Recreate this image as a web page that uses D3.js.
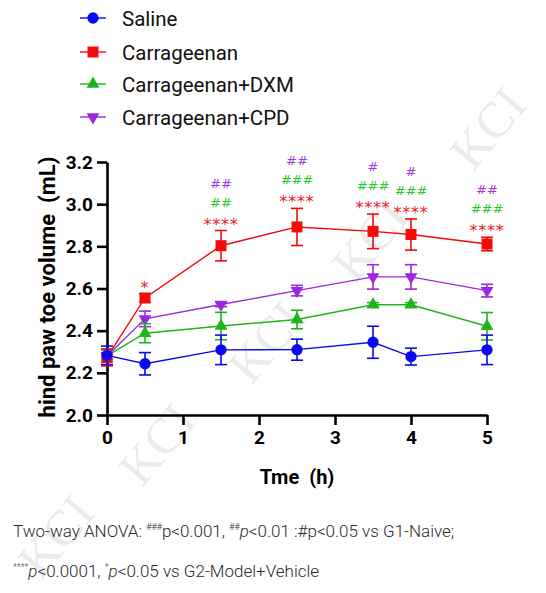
<!DOCTYPE html>
<html>
<head>
<meta charset="utf-8">
<script src="https://cdn.jsdelivr.net/npm/d3@7"></script>
<style>
  body { margin: 0; background: #fff; }
  svg { display: block; }
</style>
</head>
<body>
<svg id="chart"></svg>
<script>
// values
var times = [0, 0.5, 1.5, 2.5, 3.5, 4, 5];
var saline = [2.283, 2.243, 2.309, 2.310, 2.345, 2.277, 2.309];
var salineErr = [0.044, 0.053, 0.070, 0.050, 0.076, 0.040, 0.070];
var carrageenan = [2.273, 2.555, 2.803, 2.892, 2.871, 2.856, 2.811];
var carrageenanErr = [0.040, 0.020, 0.072, 0.088, 0.082, 0.074, 0.032];
var dxm = [2.280, 2.388, 2.422, 2.453, 2.523, 2.523, 2.421];
var dxmErr = [0.030, 0.045, 0.065, 0.044, 0.010, 0.010, 0.065];
var cpd = [2.280, 2.456, 2.524, 2.590, 2.655, 2.655, 2.590];
var cpdErr = [0.030, 0.037, 0.010, 0.025, 0.058, 0.058, 0.030];

var seriesNames = ["Saline", "Carrageenan", "Carrageenan+DXM", "Carrageenan+CPD"];
var seriesColors = ["#0a0af0", "#f50a0a", "#1eb41e", "#9a28e0"];

var yTicks = [2.0, 2.2, 2.4, 2.6, 2.8, 3.0, 3.2];
var xTicks = [0, 1, 2, 3, 4, 5];

// significance marks above the Carrageenan points
var annoTimes = [0.5, 1.5, 2.5, 3.5, 4, 5];
var annoCarr = ["*", "****", "****", "****", "****", "****"];
var annoDxm = ["", "##", "###", "###", "###", "###"];
var annoCpd = ["", "##", "##", "#", "#", "##"];
var annoColors = ["#e8202a", "#2ec42e", "#a23ad8"];

var W = 546, H = 593;
var svg = d3.select("#chart").attr("width", W).attr("height", H);

// faint watermark
var wm = [[488, 128], [370, 240], [266, 342], [157, 444], [56, 536]];
svg.append("g").selectAll("text")
    .data(wm)
    .enter().append("text")
    .attr("transform", d => "translate(" + d[0] + "," + d[1] + ") rotate(-50)")
    .attr("text-anchor", "middle")
    .attr("dominant-baseline", "central")
    .attr("font-family", "'Liberation Serif', serif")
    .attr("font-size", 50)
    .attr("fill", "#ebebeb")
    .text("KCI");

var x = d3.scaleLinear().domain([0, 5]).range([107, 487]);
var y = d3.scaleLinear().domain([2.0, 3.2]).range([415, 162]);

// axes
var yAxis = svg.append("g")
    .attr("transform", "translate(107,0)")
    .call(d3.axisLeft(y).tickValues(yTicks).tickFormat(d3.format(".1f")).tickSize(10).tickSizeOuter(0).tickPadding(4));
var xAxis = svg.append("g")
    .attr("transform", "translate(0,415)")
    .call(d3.axisBottom(x).tickValues(xTicks).tickFormat(d3.format("d")).tickSize(10).tickSizeOuter(0).tickPadding(6));

[xAxis, yAxis].forEach(function(g) {
    g.select(".domain").attr("stroke", "#000").attr("stroke-width", 2.6);
    g.selectAll(".tick line").attr("stroke", "#000").attr("stroke-width", 2.6);
    g.selectAll(".tick text")
        .attr("fill", "#000")
        .attr("font-family", "Roboto, sans-serif")
        .attr("font-weight", "bold")
        .attr("font-size", 19);
});

svg.append("text")
    .attr("transform", "translate(55,287) rotate(-90)")
    .attr("text-anchor", "middle")
    .attr("font-family", "Roboto, sans-serif")
    .attr("font-weight", "bold")
    .attr("font-size", 22)
    .text("hind paw toe volume\u00a0\u00a0(mL)");

svg.append("text")
    .attr("x", 297)
    .attr("y", 484)
    .attr("text-anchor", "middle")
    .attr("font-family", "Roboto, sans-serif")
    .attr("font-weight", "bold")
    .attr("font-size", 20)
    .text("Tme\u00a0\u00a0(h)");

// series
var symbols = [
    d3.symbol().type(d3.symbolCircle).size(100),
    d3.symbol().type(d3.symbolSquare).size(121),
    d3.symbol().type(d3.symbolTriangle).size(72),
    d3.symbol().type(d3.symbolTriangle).size(72)
];
var rotations = [0, 0, 0, 180];

var allSeries = [
    { vals: saline, errs: salineErr },
    { vals: carrageenan, errs: carrageenanErr },
    { vals: dxm, errs: dxmErr },
    { vals: cpd, errs: cpdErr }
];
var drawOrder = [3, 2, 1, 0];

var line = d3.line().x(d => x(d.t)).y(d => y(d.v));

drawOrder.forEach(function(i) {
    var s = allSeries[i];
    var pts = times.map((t, j) => ({ t: t, v: s.vals[j], e: s.errs[j] }));
    var g = svg.append("g").attr("class", "series-" + i);
    var col = seriesColors[i];

    g.append("path")
        .datum(pts)
        .attr("fill", "none")
        .attr("stroke", col)
        .attr("stroke-width", 1.4)
        .attr("d", line);

    var eb = g.selectAll(".err").data(pts).enter().append("g").attr("class", "err");
    eb.append("line")
        .attr("x1", d => x(d.t)).attr("x2", d => x(d.t))
        .attr("y1", d => y(d.v - d.e)).attr("y2", d => y(d.v + d.e))
        .attr("stroke", col).attr("stroke-width", 1.6);
    eb.append("line")
        .attr("x1", d => x(d.t) - 6).attr("x2", d => x(d.t) + 6)
        .attr("y1", d => y(d.v + d.e)).attr("y2", d => y(d.v + d.e))
        .attr("stroke", col).attr("stroke-width", 1.6);
    eb.append("line")
        .attr("x1", d => x(d.t) - 6).attr("x2", d => x(d.t) + 6)
        .attr("y1", d => y(d.v - d.e)).attr("y2", d => y(d.v - d.e))
        .attr("stroke", col).attr("stroke-width", 1.6);

    g.selectAll(".mk").data(pts).enter().append("path")
        .attr("class", "mk")
        .attr("d", symbols[i])
        .attr("fill", col)
        .attr("transform", d => "translate(" + x(d.t) + "," + y(d.v) + ") rotate(" + rotations[i] + ")");
});

// significance labels
var annoG = svg.append("g")
    .attr("text-anchor", "middle")
    .attr("font-family", "'DejaVu Sans', sans-serif");
annoTimes.forEach(function(t, k) {
    var j = times.indexOf(t);
    var redC = y(carrageenan[j] + carrageenanErr[j]) - 11;
    var greenC = redC - 18;
    var purpleC = greenC - 19;
    annoG.append("text")
        .attr("x", x(t)).attr("y", redC + 10)
        .attr("font-size", 16).attr("letter-spacing", 0.8)
        .attr("fill", annoColors[0])
        .text(annoCarr[k]);
    annoG.append("text")
        .attr("x", x(t)).attr("y", greenC + 5)
        .attr("font-size", 13)
        .attr("fill", annoColors[1])
        .text(annoDxm[k]);
    annoG.append("text")
        .attr("x", x(t)).attr("y", purpleC + 5)
        .attr("font-size", 13)
        .attr("fill", annoColors[2])
        .text(annoCpd[k]);
});

// legend
var legendY = [18, 52, 84, 117];
var lg = svg.append("g");
seriesNames.forEach(function(name, i) {
    var row = lg.append("g").attr("transform", "translate(0," + legendY[i] + ")");
    row.append("line")
        .attr("x1", 80).attr("x2", 106)
        .attr("stroke", seriesColors[i]).attr("stroke-width", 1.4);
    row.append("path")
        .attr("d", symbols[i])
        .attr("fill", seriesColors[i])
        .attr("transform", "translate(93,0) rotate(" + rotations[i] + ")");
    row.append("text")
        .attr("x", 122).attr("y", 1)
        .attr("dominant-baseline", "central")
        .attr("font-family", "Roboto, sans-serif")
        .attr("font-size", 20.5)
        .attr("fill", "#111")
        .text(name);
});

// footnote
var fn = svg.append("g")
    .attr("font-family", "Roboto, sans-serif")
    .attr("font-weight", 300)
    .attr("font-size", 17)
    .attr("fill", "#2a2a2a");

function addPieces(textSel, pieces) {
    pieces.forEach(function(p) {
        var ts = textSel.append("tspan").text(p.s);
        if (p.sup) ts.attr("font-size", 9).attr("dy", -7);
        if (p.after) ts.attr("dy", 7);
        if (p.it) ts.attr("font-style", "italic");
    });
}
var l1 = fn.append("text").attr("x", 13).attr("y", 537);
addPieces(l1, [
    { s: "Two-way ANOVA: " },
    { s: "###", sup: true },
    { s: "p<0.001, ", after: true },
    { s: "##", sup: true },
    { s: "p", it: true, after: true },
    { s: "<0.01 :#p<0.05 vs G1-Naive;" }
]);
var l2 = fn.append("text").attr("x", 13).attr("y", 577);
addPieces(l2, [
    { s: "****", sup: true },
    { s: "p", it: true, after: true },
    { s: "<0.0001, " },
    { s: "*", sup: true },
    { s: "p", it: true, after: true },
    { s: "<0.05 vs G2-Model+Vehicle" }
]);
</script>
</body>
</html>
